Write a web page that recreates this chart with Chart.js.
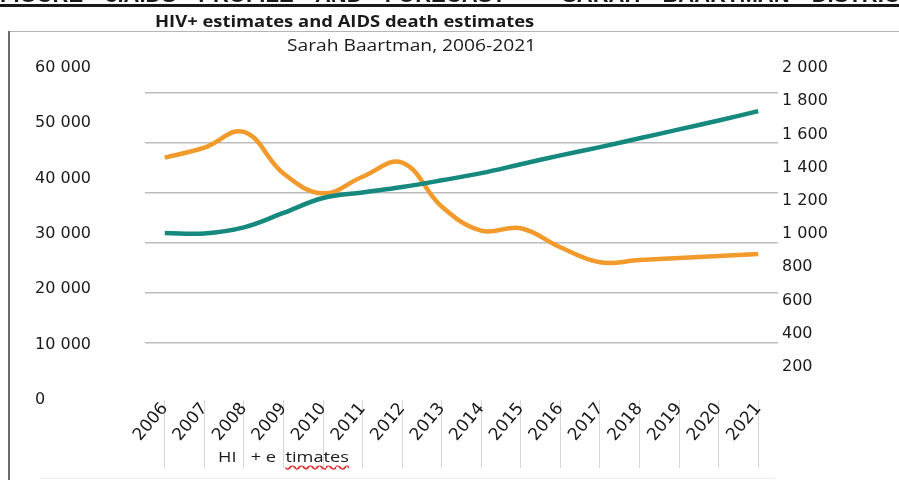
<!DOCTYPE html>
<html>
<head>
<meta charset="utf-8">
<script src="https://cdn.jsdelivr.net/npm/chart.js"></script>
<style>
  html, body { margin: 0; padding: 0; background: #fff; }
  #wrap { position: relative; width: 899px; height: 480px; overflow: hidden; background: #fff; }
  #chart { position: absolute; left: 0; top: 0; }
  .txt { position: absolute; white-space: pre; color: #1a1a1a; transform-origin: 0 0; }
  #heading {
    left: 0; top: -16px; font: bold 22px "Liberation Sans", Arial, sans-serif; line-height: 22px;
    word-spacing: 16px; text-decoration: underline; text-decoration-thickness: 3px; text-underline-offset: 2px;
  }
  #title { left: 155px; top: 13px; font: bold 16px "Open Sans", sans-serif; line-height: 16px; transform: scaleX(1.15); }
  #subtitle { left: 287px; top: 37px; font: 16px "Open Sans", sans-serif; line-height: 16px; transform: scaleX(1.2); }
  #legend { left: 218px; top: 450px; font: 14px "Open Sans", sans-serif; line-height: 14px; transform: scaleX(1.3); }
  #legend .sq { text-decoration: underline wavy #e03030; text-underline-offset: 3px; }
  #frameTop { position: absolute; left: 10px; top: 31px; width: 889px; height: 1px; background: #b5b5b5; }
  #frameLeft { position: absolute; left: 8px; top: 31px; width: 2px; height: 449px; background: #6b6b6b; }
  #baseLine { position: absolute; left: 40px; top: 478px; width: 735px; height: 1px; background: #ececec; }
</style>
</head>
<body>
<div id="wrap">
  <canvas id="chart" width="899" height="480"></canvas>
  <div id="frameTop"></div>
  <div id="frameLeft"></div>
  <div id="baseLine"></div>
  <div class="txt" id="heading">FIGURE 3.AIDS PROFILE AND FORECAST – SARAH BAARTMAN DISTRICT</div>
  <div class="txt" id="title">HIV+ estimates and AIDS death estimates</div>
  <div class="txt" id="subtitle">Sarah Baartman, 2006-2021</div>
  <div class="txt" id="legend">HI   + e  <span class="sq">timates</span></div>
</div>
<script>
const years = ['2006', '2007', '2008', '2009', '2010', '2011', '2012', '2013',
               '2014', '2015', '2016', '2017', '2018', '2019', '2020', '2021'];
// HIV+ estimates (left axis)
const hivPositive = [30200, 30100, 31200, 33800, 36500, 37500, 38500, 39700,
                     41000, 42600, 44200, 45700, 47300, 48900, 50500, 52200];
// AIDS death estimates (right axis)
const aidsDeaths = [1460, 1520, 1615, 1365, 1245, 1345, 1430, 1165,
                    1020, 1035, 920, 830, 843, 855, 867, 880];
const leftTicks = [0, 10000, 20000, 30000, 40000, 50000, 60000];
const rightTicks = [200, 400, 600, 800, 1000, 1200, 1400, 1600, 1800, 2000];

const spaced = v => String(v).replace(/\B(?=(\d{3})+(?!\d))/g, ' ');
const tickFont = { family: 'DejaVu Sans', size: 16 };

new Chart(document.getElementById('chart'), {
  type: 'line',
  data: {
    labels: years,
    datasets: [{
      label: 'HIV+ estimates',
      data: hivPositive,
      yAxisID: 'y',
      borderColor: '#15897d',
      borderWidth: 4.5,
      tension: 0.4,
      pointRadius: 0
    }, {
      label: 'AIDS death estimates',
      data: aidsDeaths,
      yAxisID: 'y1',
      borderColor: '#f29a2c',
      borderWidth: 4.5,
      tension: 0.4,
      pointRadius: 0
    }]
  },
  options: {
    responsive: false,
    animation: false,
    layout: { padding: { left: 35, right: 61, top: 68, bottom: 0 } },
    plugins: { legend: { display: false }, tooltip: { enabled: false } },
    scales: {
      x: {
        offset: true,
        border: { display: false },
        grid: { offset: false, drawOnChartArea: false, tickLength: 68, color: '#d6d6d6' },
        ticks: { color: '#1a1a1a', font: { family: 'DejaVu Sans', size: 17 }, minRotation: 50, maxRotation: 50, padding: -69 },
        afterFit: s => { s.height = 80; }
      },
      y: {
        position: 'left',
        min: 0, max: 60000,
        border: { display: false },
        grid: { display: false, drawTicks: false },
        afterBuildTicks: s => { s.ticks = leftTicks.map(v => ({ value: v })); },
        afterFit: s => { s.width = 110; },
        ticks: { crossAlign: 'far', padding: 0, color: '#1a1a1a', font: tickFont, callback: v => spaced(v) }
      },
      y1: {
        position: 'right',
        min: 0, max: 2000,
        border: { display: false },
        grid: { display: false, drawTicks: false },
        afterBuildTicks: s => { s.ticks = rightTicks.map(v => ({ value: v })); },
        afterFit: s => { s.width = 60; },
        ticks: { padding: 4, color: '#1a1a1a', font: tickFont, callback: v => spaced(v) }
      },
      // horizontal guide lines, 50px apart
      grid: {
        position: 'left',
        min: -0.14, max: 6.5,
        border: { display: false },
        grid: { color: '#bdbdbd', lineWidth: 1.5, drawTicks: false },
        afterBuildTicks: s => { s.ticks = [1, 2, 3, 4, 5, 6].map(v => ({ value: v })); },
        afterFit: s => { s.width = 0; },
        ticks: { display: false }
      }
    }
  }
});
</script>
</body>
</html>
